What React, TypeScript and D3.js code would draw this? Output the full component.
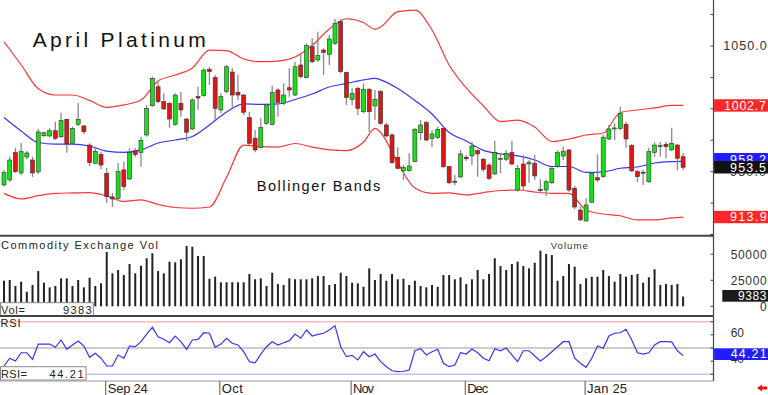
import React, { useEffect, useRef } from 'react';
import * as d3 from 'd3';

// daily OHLC, Aug 2024 - Jan 2025 (one entry per trading day)
const opens = [939.4, 943.4, 965.1, 949.0, 961.7, 959.3, 949.8, 978.6, 978.4, 982.6, 977.8, 991.7, 972.6, 987.7, 986.4, 971.2, 956.7, 963.8, 948.7, 929.9,
  928.8, 951.4, 944.2, 966.5, 965.4, 979.2, 1002.5, 1017.6, 1005.7, 1004.4, 987.7, 1004.4, 991.9, 984.0, 1009.7, 1010.5, 1031.5, 1024.8, 999.1, 1013.7,
  1029.3, 1013.2, 1011.0, 993.0, 976.6, 969.1, 988.5, 987.7, 1015.0, 1004.4, 1016.8, 1011.0, 1034.9, 1024.8, 1049.5, 1038.9, 1046.8, 1043.4, 1052.2, 1069.4,
  1028.9, 1007.6, 1016.4, 997.7, 1015.6, 1002.3, 1013.7, 987.2, 979.2, 961.5, 950.6, 950.8, 958.0, 981.0, 989.0, 976.6, 977.4, 984.5, 954.0, 942.4,
  945.8, 961.5, 962.5, 966.7, 959.9, 955.3, 948.2, 959.7, 959.9, 965.1, 935.4, 956.1, 956.1, 956.7, 935.8, 935.4, 941.2, 954.0, 962.5, 967.3,
  936.8, 919.5, 910.8, 925.7, 945.2, 946.0, 976.0, 984.1, 984.5, 987.7, 970.7, 950.0, 949.6, 942.0, 965.4, 969.9, 971.8, 967.3, 971.2, 961.9];
const highs = [951.4, 961.9, 968.9, 972.8, 966.5, 961.9, 984.0, 981.8, 984.5, 989.8, 996.9, 991.9, 985.8, 1004.9, 987.2, 972.6, 968.6, 965.9, 952.9, 933.1,
  956.9, 958.0, 968.6, 968.6, 977.8, 1003.1, 1025.6, 1021.6, 1012.4, 1005.7, 1012.4, 1013.7, 992.5, 1008.4, 1017.6, 1032.3, 1033.5, 1026.9, 1012.4, 1034.9,
  1032.5, 1026.9, 1011.8, 997.7, 983.2, 992.5, 1004.4, 1018.4, 1016.4, 1020.3, 1032.3, 1037.5, 1043.4, 1052.2, 1056.1, 1061.4, 1048.2, 1058.8, 1071.5, 1071.5,
  1029.6, 1016.4, 1017.6, 1020.3, 1016.4, 1015.0, 1015.0, 988.8, 980.6, 969.4, 955.3, 964.6, 984.8, 991.1, 990.3, 983.2, 985.8, 985.8, 954.5, 947.4,
  967.3, 963.3, 973.9, 967.8, 960.9, 956.7, 974.7, 964.6, 967.3, 974.7, 955.3, 963.3, 959.3, 963.3, 944.0, 943.4, 954.0, 967.3, 969.9, 967.8,
  938.6, 922.2, 928.8, 950.0, 963.8, 979.2, 987.2, 988.5, 1001.7, 989.8, 972.0, 951.4, 951.4, 969.1, 973.4, 973.9, 973.9, 985.0, 971.8, 964.6];
const lows = [938.1, 942.0, 949.0, 947.4, 960.1, 945.8, 948.2, 977.8, 977.4, 975.2, 976.8, 965.1, 972.0, 986.4, 980.0, 954.5, 956.1, 951.9, 925.1, 921.9,
  927.5, 935.4, 943.4, 961.9, 954.0, 977.8, 1001.7, 1004.4, 999.1, 985.0, 986.6, 993.8, 974.4, 983.2, 999.1, 1009.7, 1019.0, 991.1, 996.7, 1012.4,
  1000.7, 1007.1, 995.1, 971.2, 965.4, 968.6, 987.2, 987.2, 993.8, 1003.1, 1009.7, 1010.2, 1024.3, 1024.3, 1036.3, 1037.5, 1026.9, 1034.9, 1050.8, 1028.3,
  1003.1, 1003.1, 995.1, 996.5, 981.8, 991.1, 987.2, 977.6, 956.1, 951.9, 943.4, 950.0, 957.7, 975.2, 974.4, 969.4, 976.0, 952.7, 940.2, 939.4,
  945.0, 958.5, 955.3, 946.0, 949.8, 943.4, 947.4, 948.7, 958.5, 955.3, 934.1, 935.4, 941.2, 943.4, 932.8, 930.7, 940.2, 952.9, 959.3, 934.1,
  920.3, 910.8, 910.2, 925.1, 942.0, 945.2, 975.2, 975.2, 983.2, 969.1, 950.0, 941.6, 939.4, 941.0, 961.9, 961.9, 960.7, 966.5, 951.4, 951.4];
const closes = [949.2, 959.3, 950.0, 965.9, 964.9, 949.0, 981.6, 981.0, 982.6, 976.6, 990.6, 972.0, 984.5, 991.7, 981.8, 957.2, 965.9, 955.3, 930.1, 928.3,
  950.0, 938.1, 965.4, 963.8, 975.0, 1000.4, 1024.3, 1005.7, 999.9, 991.9, 1011.0, 999.1, 981.4, 1007.1, 1008.6, 1030.9, 1029.6, 1000.4, 1009.7, 1033.5,
  1011.0, 1011.0, 997.3, 972.6, 967.3, 985.0, 1003.1, 1013.2, 1005.2, 1011.0, 1015.0, 1033.5, 1025.6, 1050.3, 1037.5, 1042.3, 1045.0, 1055.6, 1068.1, 1029.6,
  1009.0, 1012.4, 1000.4, 1015.6, 997.7, 1007.6, 988.5, 978.4, 957.2, 952.7, 953.5, 954.5, 983.7, 987.2, 975.2, 980.0, 983.7, 954.0, 941.2, 941.6,
  964.1, 960.3, 970.4, 964.1, 951.9, 944.7, 965.1, 960.5, 964.6, 956.1, 952.7, 938.6, 957.2, 946.6, 935.0, 942.0, 952.7, 965.1, 965.9, 935.4,
  921.9, 911.6, 923.5, 948.7, 943.4, 977.1, 984.0, 984.8, 996.5, 976.0, 950.6, 946.0, 948.8, 965.9, 971.2, 970.8, 969.9, 972.6, 960.7, 953.5];

const volumes = [24600, 25300, 19500, 23700, 14000, 20500, 33900, 22700, 18200, 19500, 26900, 26900, 19500, 25300, 18200, 27500, 19500, 22100, 52200, 31700,
  34900, 30100, 40700, 31700, 39000, 46200, 51000, 33900, 31700, 42900, 42300, 45200, 58000, 57300, 48400, 48400, 26500, 28500, 23100, 23100,
  23100, 23100, 23100, 31100, 26000, 26900, 19500, 32300, 21400, 20500, 26900, 26000, 26000, 26000, 26900, 29100, 29100, 20500, 21400, 32300,
  29100, 22700, 22100, 18800, 36500, 25300, 31100, 24600, 31100, 26000, 26500, 20500, 24600, 19500, 18200, 20500, 18800, 30100, 30100, 26000,
  27900, 21400, 26000, 34900, 26000, 31100, 46200, 38700, 34900, 40700, 42900, 38700, 36500, 41900, 53500, 50300, 49300, 24600, 29100, 40700,
  38100, 21400, 26900, 28500, 28500, 34900, 29100, 23700, 31100, 28500, 30100, 31100, 22700, 27900, 35600, 20500, 21400, 20500, 21400, 9383];

const rsi = [36.3, 42.2, 40.1, 46.4, 46.4, 41.4, 53.0, 53.0, 53.0, 50.5, 56.1, 49.0, 52.3, 55.3, 51.5, 42.9, 46.0, 42.2, 36.3, 36.3,
  44.7, 42.2, 51.5, 51.0, 54.8, 60.6, 65.7, 58.6, 56.6, 54.0, 59.1, 54.8, 49.0, 56.1, 56.6, 61.6, 61.2, 50.5, 53.0, 57.4,
  53.6, 52.3, 47.2, 39.6, 38.8, 45.4, 51.0, 54.8, 52.3, 54.0, 55.6, 60.6, 57.4, 63.7, 59.1, 60.4, 61.2, 63.7, 67.0, 51.0,
  43.4, 44.4, 40.9, 47.2, 43.4, 45.4, 39.6, 35.8, 32.7, 32.0, 32.3, 33.3, 47.9, 49.5, 44.7, 47.2, 49.0, 38.4, 35.8, 37.1,
  46.4, 45.4, 49.2, 46.4, 42.2, 40.3, 49.5, 47.9, 50.0, 44.7, 39.6, 47.9, 47.9, 43.9, 40.1, 43.4, 47.2, 51.0, 54.8, 54.8,
  42.2, 38.4, 35.3, 42.2, 51.5, 49.8, 59.1, 61.2, 61.6, 64.2, 56.1, 46.4, 45.4, 46.4, 52.3, 54.8, 54.8, 54.6, 47.9, 44.21];

// Bollinger bands at these bar indices
const bbIdx = [0, 3, 6, 9, 12, 15, 18, 21, 24, 27, 30, 33, 36, 39, 42, 45, 48, 51, 54, 57, 60, 63, 65, 66, 69, 72, 75, 78, 81, 84,
  87, 90, 93, 96, 99, 102, 105, 108, 111, 114, 117, 119];
const bbUpper = [1053.4, 1035.1, 1016.0, 1011.0, 1011.0, 1006.7, 1001.2, 1003.1, 1007.0, 1022.2, 1026.9, 1032.5, 1046.8, 1046.4, 1039.7, 1037.5, 1038.0, 1041.3, 1050.4, 1063.5,
  1071.7, 1068.7, 1063.3, 1065.1, 1077.3, 1078.5, 1062.7, 1034.9, 1016.6, 1002.3, 989.8, 991.1, 985.6, 974.0, 976.0, 979.2, 980.8, 997.1, 999.1, 1000.7,
  1002.8, 1002.7];
const bbMid = [993.1, 982.4, 973.2, 972.0, 972.0, 970.4, 966.3, 965.3, 967.3, 972.8, 975.2, 978.0, 987.2, 997.5, 1003.9, 1003.5, 1003.9, 1007.4, 1011.8, 1017.4,
  1020.2, 1023.0, 1024.2, 1023.1, 1016.2, 1006.7, 995.9, 981.2, 974.4, 966.9, 964.1, 962.5, 959.3, 954.1, 954.1, 949.4, 949.8, 952.7, 953.7, 956.9,
  958.0, 958.2];
const bbLower = [932.7, 928.3, 930.9, 932.8, 933.1, 933.3, 930.7, 926.3, 927.6, 923.9, 921.5, 920.9, 921.9, 945.5, 971.2, 969.9, 969.6, 972.4, 969.6, 967.4,
  966.8, 973.6, 984.4, 981.2, 956.9, 937.0, 932.8, 933.1, 931.5, 933.4, 935.0, 935.4, 933.8, 932.8, 932.7, 919.5, 916.3, 914.9, 911.6, 911.6,
  913.2, 913.9];

const monthLabels = ['Sep 24', 'Oct', 'Nov', 'Dec', 'Jan 25'];
const monthStart = [18, 38, 61, 81, 102];
const priceTicks = [900, 925, 950, 975, 1000, 1025, 1050, 1075];
const volTicks = [0, 25000, 50000];
const rsiTicks = [30, 40, 50, 60, 70];

const FONT = '"Liberation Sans", Arial, sans-serif';

const App = () => {
  const ref = useRef<SVGSVGElement>(null);

  useEffect(() => {
    const svg = d3.select(ref.current);
    svg.selectAll('*').remove();

    const axisX = 713.5;
    const x = d3.scaleLinear().domain([0, 119]).range([4, 683.1]);
    const yP = d3.scaleLinear().domain([900, 1075]).range([234.5, 14.6]);
    const yV = d3.scaleLinear().domain([0, 50000]).range([306.3, 254.3]);
    const yR = d3.scaleLinear().domain([30, 70]).range([374.3, 321.7]);

    svg.append('rect').attr('width', 768).attr('height', 395).attr('fill', '#fff');

    // helper for labels that have a fixed width in the reference
    const label = (g, str, px, py, size, len, opts: any = {}) =>
      g.append('text')
        .attr('x', px).attr('y', py)
        .attr('font-family', FONT).attr('font-size', size)
        .attr('fill', opts.fill || '#222')
        .attr('text-anchor', opts.anchor || 'start')
        .attr('textLength', len).attr('lengthAdjust', 'spacing')
        .text(str);

    // ---- main price panel
    svg.append('clipPath').attr('id', 'mainClip')
      .append('rect').attr('x', 0).attr('y', 0).attr('width', axisX).attr('height', 235);
    const main = svg.append('g').attr('clip-path', 'url(#mainClip)');

    const band = (vals, color) => {
      const line = d3.line<number>()
        .x((d, i) => x(bbIdx[i]))
        .y(d => yP(d))
        .curve(d3.curveMonotoneX);
      main.append('path').attr('d', line(vals)).attr('fill', 'none')
        .attr('stroke', color).attr('stroke-width', 1.2);
    };
    band(bbUpper, '#ff3535');
    band(bbLower, '#ff3535');
    band(bbMid, '#3535ff');

    const idx = d3.range(closes.length);
    main.selectAll('line.wick').data(idx).enter().append('line')
      .attr('x1', i => x(i)).attr('x2', i => x(i))
      .attr('y1', i => yP(highs[i])).attr('y2', i => yP(lows[i]))
      .attr('stroke', '#8a8a8a').attr('stroke-width', 1.3);
    main.selectAll('rect.body').data(idx).enter().append('rect')
      .attr('x', i => x(i) - 2)
      .attr('width', 4)
      .attr('y', i => yP(Math.max(opens[i], closes[i])))
      .attr('height', i => Math.max(1, Math.abs(yP(opens[i]) - yP(closes[i]))))
      .attr('fill', i => (closes[i] >= opens[i] ? '#16e016' : '#e01616'))
      .attr('stroke', '#333').attr('stroke-width', 0.6);

    label(svg, 'April Platinum', 32.7, 46.7, 21, 173, { fill: '#111' });
    label(svg, 'Bollinger Bands', 256.7, 190.7, 14.5, 123.5, { fill: '#111' });

    // ---- volume panel
    const vol = svg.append('g');
    vol.selectAll('rect').data(idx).enter().append('rect')
      .attr('x', i => x(i) - 1).attr('width', 2)
      .attr('y', i => yV(volumes[i]))
      .attr('height', i => yV(0) - yV(volumes[i]))
      .attr('fill', '#222');
    label(svg, 'Commodity Exchange Vol', 1, 249, 11, 157);
    label(svg, 'Volume', 550.7, 249.3, 9.5, 37, { fill: '#333' });

    svg.append('rect').attr('x', 0.5).attr('y', 302.7).attr('width', 92.8).attr('height', 13.3)
      .attr('fill', '#fff').attr('stroke', '#888').attr('stroke-width', 1);
    label(svg, 'Vol=', 1, 313.5, 11, 24);
    label(svg, String(volumes[volumes.length - 1]), 91.5, 313.5, 11, 28.5, { anchor: 'end' });

    // ---- RSI panel
    const refLines = [[70, '#f6bcbc'], [50, '#bdbdbd'], [30, '#c2c2f6']];
    refLines.forEach(([v, c]) => {
      svg.append('line').attr('x1', 0).attr('x2', axisX)
        .attr('y1', yR(v as number)).attr('y2', yR(v as number))
        .attr('stroke', c as string).attr('stroke-width', 1.4);
    });
    const rsiLine = d3.line<number>().x((d, i) => x(i)).y(d => yR(d));
    svg.append('path').attr('d', rsiLine(rsi)).attr('fill', 'none')
      .attr('stroke', '#3535ff').attr('stroke-width', 1.2);
    label(svg, 'RSI', 0.5, 327, 11, 20);
    svg.append('rect').attr('x', 0.5).attr('y', 366.7).attr('width', 85.5).attr('height', 13.3)
      .attr('fill', '#fff').attr('stroke', '#888').attr('stroke-width', 1);
    label(svg, 'RSI=', 1, 377.5, 11, 26);
    label(svg, rsi[rsi.length - 1].toFixed(2), 83.5, 377.5, 11, 34, { anchor: 'end' });

    // ---- panel separators and right axis
    svg.append('line').attr('x1', 0).attr('x2', axisX).attr('y1', 235.8).attr('y2', 235.8)
      .attr('stroke', '#444').attr('stroke-width', 2);
    svg.append('line').attr('x1', 0).attr('x2', axisX).attr('y1', 316).attr('y2', 316)
      .attr('stroke', '#444').attr('stroke-width', 2);
    svg.append('line').attr('x1', 0).attr('x2', axisX).attr('y1', 381).attr('y2', 381)
      .attr('stroke', '#999').attr('stroke-width', 1);
    svg.append('line').attr('x1', axisX).attr('x2', axisX).attr('y1', 0).attr('y2', 381)
      .attr('stroke', '#444').attr('stroke-width', 1.2);

    const ticks = (vals, sc) => vals.forEach(v => {
      svg.append('line').attr('x1', axisX - 3).attr('x2', axisX)
        .attr('y1', sc(v)).attr('y2', sc(v)).attr('stroke', '#444');
    });
    ticks(priceTicks, yP);
    ticks(volTicks, yV);
    ticks(rsiTicks, yR);

    // price axis labels and value markers
    label(svg, '1050.0', 723.3, yP(1050) + 4.3, 12.5, 43.4, { fill: '#333' });
    const marker = (val, text, fill, len, left) => {
      svg.append('rect').attr('x', axisX + 0.6).attr('y', yP(val) - 6.2)
        .attr('width', 768 - axisX).attr('height', 12.4).attr('fill', fill);
      label(svg, text, left, yP(val) + 4.3, 12.5, len, { fill: '#fff' });
    };
    marker(bbUpper[bbUpper.length - 1], bbUpper[bbUpper.length - 1].toFixed(1), '#ff2626', 42, 724);
    marker(bbMid[bbMid.length - 1] + 1.7, bbMid[bbMid.length - 1].toFixed(1), '#1e1eff', 36, 730);
    label(svg, '950.0', 730, yP(950) + 4.3, 12.5, 36, { fill: '#333' });
    marker(closes[closes.length - 1], closes[closes.length - 1].toFixed(1), '#111', 36, 730);
    marker(bbLower[bbLower.length - 1], bbLower[bbLower.length - 1].toFixed(1), '#ff2626', 36.7, 730);

    // volume axis labels
    label(svg, '50000', 730.7, yV(50000) + 4.3, 12, 36, { fill: '#333' });
    label(svg, '25000', 730.7, yV(25000) + 4.3, 12, 36, { fill: '#333' });
    label(svg, '0', 760, yV(0) + 4.3, 12, 6.5, { fill: '#333' });
    svg.append('rect').attr('x', 722.3).attr('y', 290).attr('width', 46).attr('height', 11.7).attr('fill', '#1a1a1a');
    label(svg, String(volumes[volumes.length - 1]), 766.5, 300.2, 12, 28.5, { fill: '#fff', anchor: 'end' });

    // RSI axis labels
    label(svg, '60', 730.7, yR(60) + 2, 12, 13.3, { fill: '#333' });
    label(svg, '40', 730.7, yR(40) + 2, 12, 13.3, { fill: '#333' });
    svg.append('rect').attr('x', axisX + 0.6).attr('y', 348.3).attr('width', 768 - axisX).attr('height', 11.7).attr('fill', '#1e1eff');
    label(svg, rsi[rsi.length - 1].toFixed(2), 730.7, 358.3, 12.5, 36, { fill: '#fff' });

    // ---- date axis
    monthStart.forEach((m, k) => {
      const mx = x(m) - 1;
      svg.append('line').attr('x1', mx).attr('x2', mx).attr('y1', 381).attr('y2', 395)
        .attr('stroke', '#555').attr('stroke-width', 1);
      label(svg, monthLabels[k], mx + 2, 392.5, 13, monthLabels[k].length > 3 ? 40 : 21);
    });

    // little red arrow, bottom right
    svg.append('path')
      .attr('d', 'M757,388 L762,384.5 L762,386.5 L767,386.5 L767,389.5 L762,389.5 L762,391.5 Z')
      .attr('fill', '#ee1111');
  }, []);

  return (
    <div style={{ position: 'fixed', left: 0, top: 0 }}>
      <svg ref={ref} width={768} height={395} style={{ display: 'block' }} />
    </div>
  );
};

export default App;
